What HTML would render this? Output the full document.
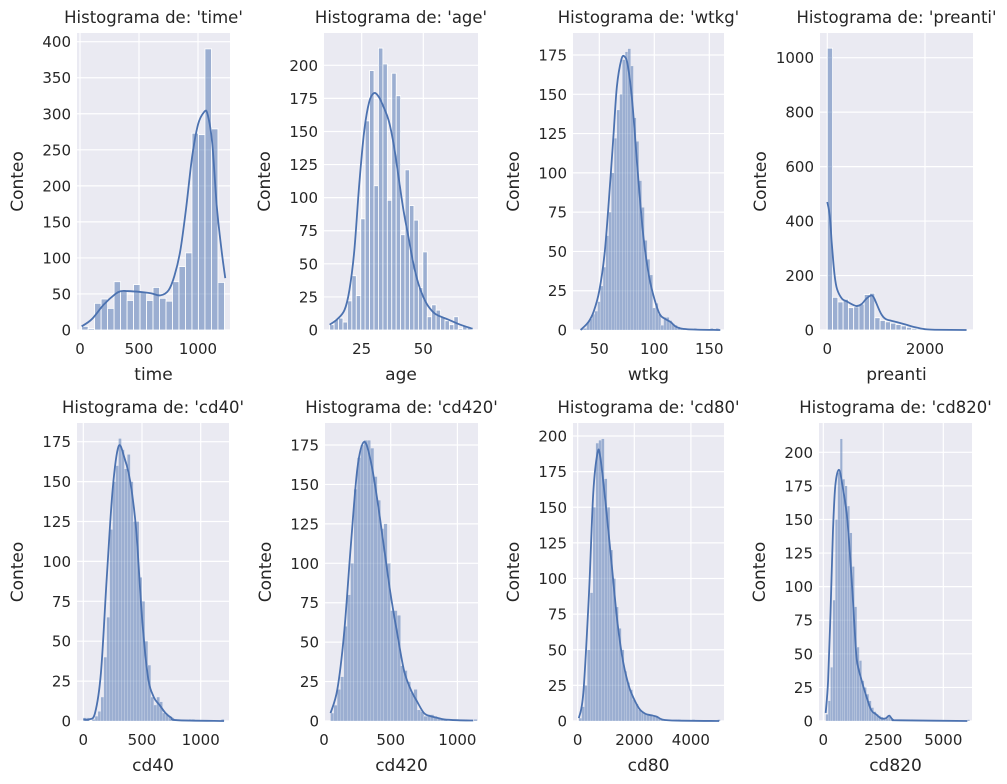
<!DOCTYPE html>
<html><head><meta charset="utf-8"><style>
body{margin:0;background:#fff;}
svg{display:block;font-family:"DejaVu Sans","Liberation Sans",sans-serif;}
</style></head><body>
<svg id="chart" width="1007" height="784" viewBox="0 0 1007 784"></svg>
<script>
// ---- data ----
const timeCounts=[5,2,37,43,30,67,55,41,63,52,41,59,44,40,67,88,107,273,271,390,279,66];
const timeKdeX=[14,100,200,300,350,400,500,600,680,750,800,850,900,950,1000,1050,1080,1120,1160,1200,1231];
const timeKdeY=[5,15,35,50,54,54,53,51,48,55,75,110,170,240,285,302,300,260,170,110,72];
const ageCounts=[4,8,9,6,22,41,26,84,158,196,109,213,201,98,194,177,72,121,94,83,32,59,10,19,15,10,7,4,10,1,3,2];
const ageKdeX=[12,15,18,20,22,24,26,28,30,32,34,36,38,40,42,44,46,48,50,52,55,60,65,70];
const ageKdeY=[4,8,15,30,60,110,150,172,179,176,168,158,140,115,90,70,50,35,25,18,12,8,4,1];
const wtkgCounts=[0,1,1,5,7,10,12,18,28,40,60,75,100,122,140,150,172,177,179,168,135,120,95,78,57,45,35,14,17,10,3,8,8,6,4,3,2,1,1,1,0,0,1,0,0,0,0,0,1,0,1,0];
const wtkgKdeX=[33,40,45,50,55,60,63,66,70,73,76,80,85,90,95,100,105,110,115,120,130,160];
const wtkgKdeY=[0,5,12,25,50,95,125,155,172,174,168,145,100,60,35,20,10,7,5,2,0.5,0];
const preantiCounts=[1035,120,103,113,82,85,95,130,135,45,35,30,25,20,15,10,6,4,3,2,1,1,1,1,0,1];
const preantiKdeX=[0,50,100,150,200,300,400,500,600,700,800,900,950,1000,1100,1200,1400,1600,1800,2000,2200,2851];
const preantiKdeY=[470,420,300,200,150,115,105,95,88,95,115,127,120,100,60,40,30,20,10,3,1,0];
const cd40Counts=[2,2,0,1,3,6,15,40,65,120,150,160,177,170,158,167,150,125,125,90,75,50,35,15,10,15,12,5,4,3,2,1,1,0,0,0,1,1,0,0,0,0,0,0,0,0,0,1];
const cd40KdeX=[0,50,100,150,200,250,300,350,400,450,500,550,600,650,700,750,800,1199];
const cd40KdeY=[1,1,5,30,90,145,172,165,150,120,65,28,15,10,5,2,0.5,0];
const cd420Counts=[5,10,20,28,60,80,100,147,167,175,178,178,173,155,140,122,125,100,70,70,67,35,32,25,18,20,7,6,3,4,4,3,2,1,1,0,0,0,0,0,0,0,0,1];
const cd420KdeX=[49,100,150,200,250,300,350,400,450,500,550,600,650,700,750,800,850,900,1000,1119];
const cd420KdeY=[5,20,55,110,160,177,165,140,110,80,55,32,20,12,5,3,2,1,0.5,0.3];
const cd80Counts=[2,10,25,50,90,150,195,197,198,170,150,120,100,80,65,50,35,27,22,15,12,8,6,5,5,4,3,3,2,1,1,1,0,0,0,1,0,0,0,0,1,0,0,0,0,0,0,0,0,1];
const cd80KdeX=[40,200,400,550,700,800,1000,1200,1400,1600,1800,2000,2200,2400,2600,2800,3000,3500,5000];
const cd80KdeY=[2,20,90,160,188,185,150,110,70,42,25,15,8,5,4,3,1,0.3,0];
const cd820Counts=[5,15,40,90,150,185,210,180,175,160,140,115,85,55,45,30,25,20,15,10,7,5,4,3,2,2,3,2,1,1,0,0,0,0,0,0,0,0,0,0,0,0,0,0,0,0,0,0,0,0,0,0,0,0,0,0,0,0,0,1];
const cd820KdeX=[100,200,300,400,500,650,800,1000,1200,1300,1400,1600,1800,2000,2200,2400,2600,2750,2900,3200,6000];
const cd820KdeY=[6,30,80,140,175,187,175,150,100,70,45,30,18,8,5,2,2,4,1,0.5,0];

// ---- layout ----
const panels=[
 {v:'time',L:77,R:230,T:33,B:330,x0:80,x1:198,xv1:1000,yk:0.7208,xt:[0,500,1000],ys:50,ym:400,c:timeCounts,bs:14,bw:55,kx:timeKdeX,ky:timeKdeY},
 {v:'age',L:324,R:478,T:33,B:330,x0:361.7-25*2.464,x1:423.3,xv1:50,yk:1.3235,xt:[25,50],ys:25,ym:200,c:ageCounts,bs:12,bw:1.8,kx:ageKdeX,ky:ageKdeY},
 {v:'wtkg',L:573,R:724,T:33,B:330,x0:599.3-55,x1:654.3,xv1:100,yk:1.5714,xt:[50,100,150],ys:25,ym:175,c:wtkgCounts,bs:31,bw:2.5,kx:wtkgKdeX,ky:wtkgKdeY},
 {v:'preanti',L:820,R:973,T:33,B:330,x0:827.3,x1:925,xv1:2000,yk:0.2723,xt:[0,2000],ys:200,ym:1000,c:preantiCounts,bs:0,bw:108,kx:preantiKdeX,ky:preantiKdeY},
 {v:'cd40',L:77,R:229,T:423,B:721,x0:83.3,x1:200.7,xv1:1000,yk:1.596,xt:[0,500,1000],ys:25,ym:175,c:cd40Counts,bs:0,bw:25,kx:cd40KdeX,ky:cd40KdeY},
 {v:'cd420',L:325,R:478,T:423,B:721,x0:324,x1:390.7,xv1:500,yk:1.577,xt:[0,500,1000],ys:25,ym:175,c:cd420Counts,bs:49,bw:25,kx:cd420KdeX,ky:cd420KdeY},
 {v:'cd80',L:573,R:724,T:423,B:721,x0:577.7,x1:634.3,xv1:2000,yk:1.425,xt:[0,2000,4000],ys:25,ym:200,c:cd80Counts,bs:40,bw:100,kx:cd80KdeX,ky:cd80KdeY},
 {v:'cd820',L:819,R:972,T:423,B:721,x0:823.3,x1:883.3,xv1:2500,yk:1.3435,xt:[0,2500,5000],ys:25,ym:200,c:cd820Counts,bs:100,bw:100,kx:cd820KdeX,ky:cd820KdeY}
];
const NS='http://www.w3.org/2000/svg';
const svg=document.getElementById('chart');
function mk(tag,attrs,parent){const e=document.createElementNS(NS,tag);for(const k in attrs)e.setAttribute(k,attrs[k]);parent.appendChild(e);return e;}
panels.forEach(p=>{
 const g=mk('g',{},svg);
 
 
 const xs=v=>p.x0+(v)*(p.x1-p.x0)/p.xv1;
 const ys=v=>p.B-v*p.yk;
 const bg=mk('rect',{x:p.L,y:p.T,width:p.R-p.L,height:p.B-p.T,fill:'#eaeaf2'},g);
 
 
 for(let v=0;v<=p.ym;v+=p.ys){
  const y=ys(v);
  const ln=mk('line',{x1:p.L,x2:p.R,y1:y,y2:y,stroke:'#fff','stroke-width':1.2},g);
  
  
  const t=mk('text',{x:p.L-6,y:y+5.5,'text-anchor':'end','font-size':15,fill:'#262626'},g);
  t.textContent=v;
  
  
 }
 p.xt.forEach(v=>{
  const x=xs(v);
  const ln=mk('line',{x1:x,x2:x,y1:p.T,y2:p.B,stroke:'#fff','stroke-width':1.2},g);
  
  
  const t=mk('text',{x:x,y:p.B+24,'text-anchor':'middle','font-size':15,fill:'#262626'},g);
  t.textContent=v;
  
  
 });
 p.c.forEach((c,i)=>{
  if(c<=0)return;
  const xa=xs(p.bs+i*p.bw),xb=xs(p.bs+(i+1)*p.bw);
  const r=mk('rect',{x:xa,y:ys(c),width:Math.max(xb-xa,0.5),height:c*p.yk,fill:'rgba(76,114,176,0.5)',stroke:'#fff','stroke-width':(xb-xa)>4?0.8:0.15},g);
  
  
 });
 let pts=p.kx.map((x,i)=>[xs(x),ys(p.ky[i])]);
 let d='M'+pts[0][0]+','+pts[0][1];
 for(let i=0;i<pts.length-1;i++){
  const p0=pts[Math.max(i-1,0)],p1=pts[i],p2=pts[i+1],p3=pts[Math.min(i+2,pts.length-1)];
  const c1=[p1[0]+(p2[0]-p0[0])/6,p1[1]+(p2[1]-p0[1])/6],c2=[p2[0]-(p3[0]-p1[0])/6,p2[1]-(p3[1]-p1[1])/6];
  d+=' C'+c1+' '+c2+' '+p2;
 }
 const k=mk('path',{d:d,fill:'none',stroke:'#4c72b0','stroke-width':1.8},g);
 
 
 const cx=(p.L+p.R)/2;
 const tt=mk('text',{x:cx,y:p.T-10,'text-anchor':'middle','font-size':16.5,fill:'#262626'},g);
 tt.textContent="Histograma de: '"+p.v+"'";
 
 
 const xl=mk('text',{x:cx,y:p.B+50,'text-anchor':'middle','font-size':17,fill:'#262626'},g);
 xl.textContent=p.v;
 
 
 const ly=(p.T+p.B)/2, lx=p.L-54;
 const yl=mk('text',{x:lx,y:ly,'text-anchor':'middle','font-size':17,fill:'#262626',transform:'rotate(-90 '+lx+' '+ly+')'},g);
 yl.textContent='Conteo';
 
 
});
</script>
</body></html>
